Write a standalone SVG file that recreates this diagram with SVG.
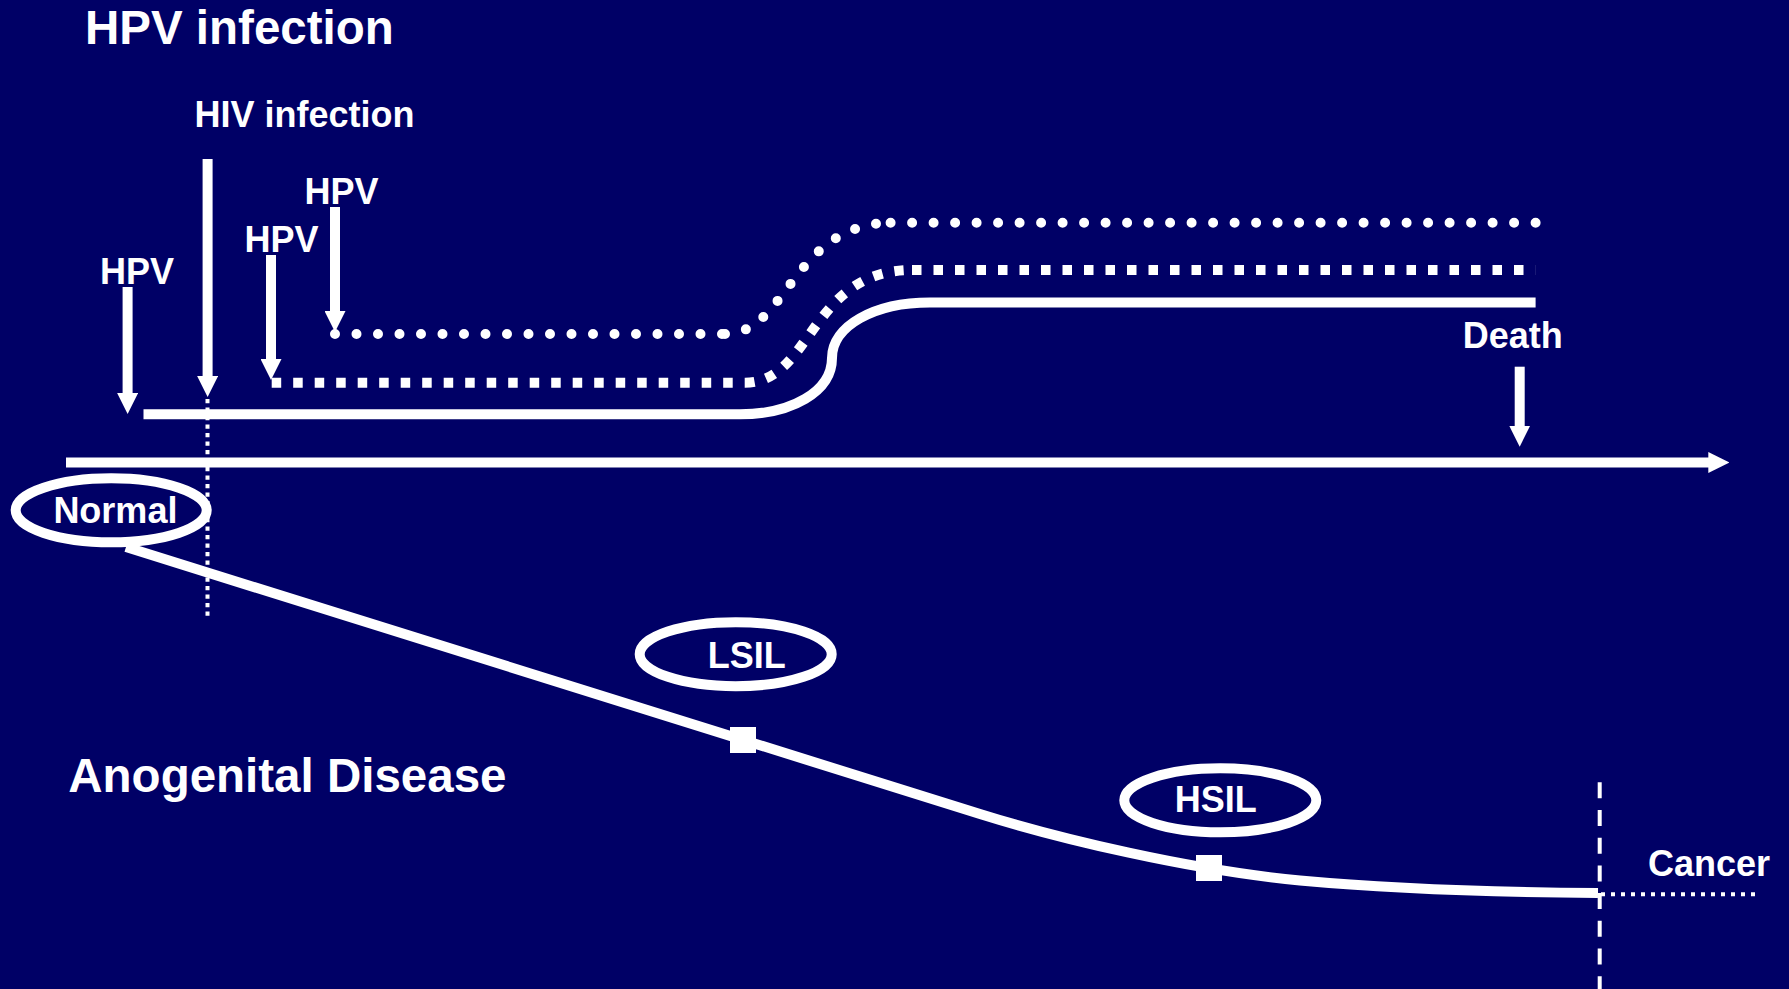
<svg xmlns="http://www.w3.org/2000/svg" width="1789" height="989" viewBox="0 0 1789 989">
<style>
  text { font-family: "Liberation Sans", Arial, sans-serif; font-weight: bold; fill: #ffffff; }
  .t36 { font-size: 36px; }
  .t48 { font-size: 47.5px; }
  .solid { fill: none; stroke: #ffffff; stroke-width: 10; }
  .dots { fill: none; stroke: #ffffff; stroke-width: 10; stroke-linecap: round; stroke-dasharray: 0 21.5; }
  .sq { fill: none; stroke: #ffffff; stroke-width: 10; stroke-dasharray: 9.5 12; }
  .shaft { fill: none; stroke: #ffffff; stroke-width: 10; }
  .node { fill: none; stroke: #ffffff; stroke-width: 10; }
  .fine { fill: none; stroke: #ffffff; stroke-width: 4; }
</style>
<defs>
  <marker id="ah" markerUnits="userSpaceOnUse" markerWidth="21" markerHeight="21" viewBox="0 0 21 21" refX="1" refY="10.5" orient="auto">
    <path d="M0,0 L21,10.5 L0,21 Z" fill="#ffffff"/>
  </marker>
</defs>
<rect x="0" y="0" width="1789" height="989" fill="#000066"/>

<g id="labels">
  <text x="85" y="44" class="t48">HPV infection</text>
  <text x="304.5" y="127" class="t36" text-anchor="middle">HIV infection</text>
  <text x="137" y="284" class="t36" text-anchor="middle">HPV</text>
  <text x="281.5" y="252" class="t36" text-anchor="middle">HPV</text>
  <text x="341.5" y="204" class="t36" text-anchor="middle">HPV</text>
  <text x="1512.7" y="348" class="t36" text-anchor="middle">Death</text>
  <text x="68.3" y="791.5" class="t48">Anogenital Disease</text>
  <text x="1709" y="876" class="t36" text-anchor="middle">Cancer</text>
</g>

<g id="connectors">
  <!-- time axis -->
  <line x1="66" y1="462.5" x2="1709.3" y2="462.5" class="shaft" marker-end="url(#ah)"/>
  <!-- event arrows -->
  <line x1="127.6" y1="287" x2="127.6" y2="394" class="shaft" marker-end="url(#ah)"/>
  <line x1="207.6" y1="159" x2="207.6" y2="377" class="shaft" marker-end="url(#ah)"/>
  <line x1="271" y1="255" x2="271" y2="360" class="shaft" marker-end="url(#ah)"/>
  <line x1="335" y1="207" x2="335" y2="312" class="shaft" marker-end="url(#ah)"/>
  <line x1="1519.7" y1="366.7" x2="1519.7" y2="426.7" class="shaft" marker-end="url(#ah)"/>
  <!-- HIV dotted drop line -->
  <line x1="207.5" y1="399" x2="207.5" y2="618" class="fine" stroke-dasharray="4.3 4.2"/>
  <!-- infection course lines -->
  <path class="solid" d="M143.5,414.3 H740 C791,414.3 832,392 832,358 C832,326 874,302.5 930,302.5 H1535.6"/>
  <path class="sq" d="M271.7,382.7 H745"/>
  <path class="sq" d="M745,382.7 C812,382.7 810,270 912,270"/>
  <path class="sq" d="M912,270 H1535.6"/>
  <path class="dots" d="M335,334 H725"/>
  <path class="dots" d="M725,334 C788,334 792,222.7 893,222.7"/>
  <path class="dots" d="M1535.6,222.7 H890" stroke-dasharray="0 21.4"/>
  <!-- disease course -->
  <path class="solid" d="M126,547 L980,814 C1060,839 1190,870 1300,880.5 C1360,886 1450,892 1598,893"/>
  <!-- cancer markers -->
  <line x1="1599.7" y1="782.3" x2="1599.7" y2="989" class="fine" stroke-dasharray="16 11.7"/>
  <line x1="1601" y1="894.3" x2="1756" y2="894.3" class="fine" stroke-dasharray="4 6"/>
</g>

<g id="node-normal">
  <ellipse cx="111.2" cy="510.3" rx="95.5" ry="32" class="node"/>
  <text x="115.4" y="523.3" class="t36" text-anchor="middle">Normal</text>
</g>
<g id="node-lsil">
  <ellipse cx="735.7" cy="654.2" rx="96" ry="32" class="node"/>
  <text x="746.8" y="667.7" class="t36" text-anchor="middle">LSIL</text>
  <rect x="730" y="727" width="26" height="26" fill="#ffffff"/>
</g>
<g id="node-hsil">
  <ellipse cx="1220.3" cy="800.3" rx="96" ry="32" class="node"/>
  <text x="1215.8" y="811.7" class="t36" text-anchor="middle">HSIL</text>
  <rect x="1196" y="855" width="26" height="26" fill="#ffffff"/>
</g>
</svg>
